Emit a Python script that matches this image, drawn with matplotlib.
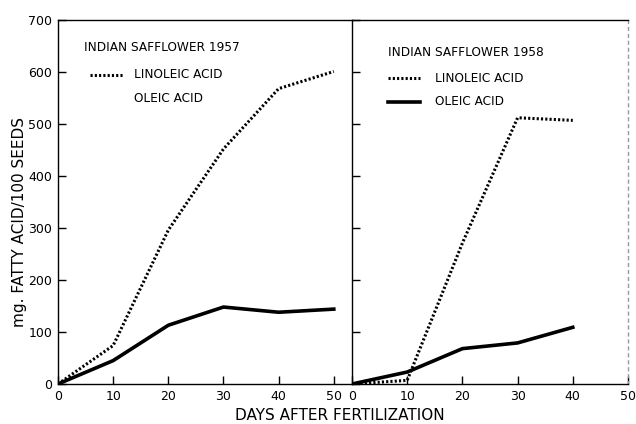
import matplotlib
matplotlib.use("Agg")
import matplotlib.pyplot as plt

plt.rcParams['font.family'] = ['DejaVu Sans']

# days after fertilization
days_1957 = [0, 10, 20, 30, 40, 50]
days_1958 = [0, 10, 20, 30, 40]

# mg fatty acid per 100 seeds
linoleic_1957 = [0, 74, 296, 452, 568, 601]
oleic_1957 = [0, 45, 113, 148, 138, 144]
linoleic_1958 = [0, 7, 271, 512, 507]
oleic_1958 = [0, 23, 68, 79, 109]

yticks = [0, 100, 200, 300, 400, 500, 600, 700]
xticks = [0, 10, 20, 30, 40, 50]

dot = (0, (0.7, 0.7))

fig = plt.figure(figsize=(6.36, 4.24), dpi=100)
ax1 = fig.add_axes([58/636, 1-384/424, 294/636, 364/424])
ax2 = fig.add_axes([352/636, 1-384/424, 276/636, 364/424])

ax1.plot(days_1957, linoleic_1957, color='black', lw=2.2, linestyle=dot)
ax1.plot(days_1957, oleic_1957, color='black', lw=2.6)
ax2.plot(days_1958, linoleic_1958, color='black', lw=2.2, linestyle=dot)
ax2.plot(days_1958, oleic_1958, color='black', lw=2.6)

ax1.set_xlim(0, 53.3)
ax2.set_xlim(0, 50)
for ax in (ax1, ax2):
    ax.set_ylim(0, 700)
    ax.set_xticks(xticks)
    ax.set_yticks(yticks)
    ax.tick_params(direction='in', length=6, width=1, labelsize=9, pad=4)
    for s in ax.spines.values():
        s.set_linewidth(1)

ax1.spines['right'].set_visible(False)
ax2.tick_params(axis='y', labelleft=False)
ax2.spines['right'].set_linestyle((0, (2, 3)))
ax2.spines['right'].set_color('#999999')

# in-plot legends
ax1.text(0.09, 0.925, 'INDIAN SAFFLOWER 1957', transform=ax1.transAxes,
         fontsize=8.7, va='center')
ax1.plot([0.11, 0.225], [0.85, 0.85], transform=ax1.transAxes,
         color='black', lw=2.2, linestyle=dot)
ax1.text(0.26, 0.85, 'LINOLEIC ACID', transform=ax1.transAxes,
         fontsize=8.7, va='center')
ax1.text(0.26, 0.785, 'OLEIC ACID', transform=ax1.transAxes,
         fontsize=8.7, va='center')

ax2.text(0.13, 0.91, 'INDIAN SAFFLOWER 1958', transform=ax2.transAxes,
         fontsize=8.7, va='center')
ax2.plot([0.13, 0.245], [0.84, 0.84], transform=ax2.transAxes,
         color='black', lw=2.2, linestyle=dot)
ax2.text(0.3, 0.84, 'LINOLEIC ACID', transform=ax2.transAxes,
         fontsize=8.7, va='center')
ax2.plot([0.13, 0.245], [0.775, 0.775], transform=ax2.transAxes,
         color='black', lw=2.6)
ax2.text(0.3, 0.775, 'OLEIC ACID', transform=ax2.transAxes,
         fontsize=8.7, va='center')

fig.text(20/636, 1-222/424, 'mg. FATTY ACID/100 SEEDS', rotation=90,
         fontsize=11, ha='center', va='center')
fig.text(340/636, 1-415/424, 'DAYS AFTER FERTILIZATION',
         fontsize=11, ha='center', va='center')

fig.savefig('out.png', dpi=100)
